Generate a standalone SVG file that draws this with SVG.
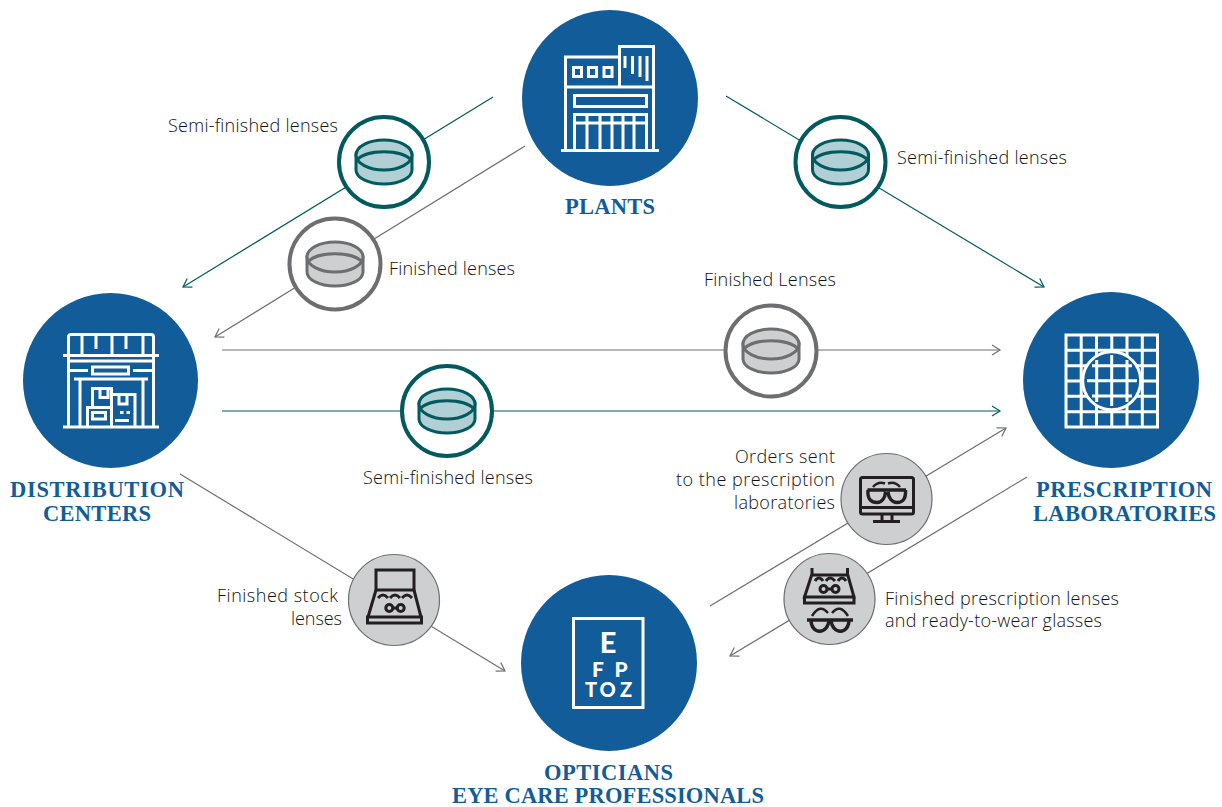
<svg xmlns="http://www.w3.org/2000/svg" width="1222" height="807" viewBox="0 0 1222 807">
<style>
.hub{fill:#115c99}
.ico{fill:none;stroke:#fff;stroke-width:3}
.title{font-family:"Liberation Serif",serif;font-weight:700;font-size:22.500px;fill:#115c99;text-anchor:middle}
.lbl{font-family:"Open Sans","Liberation Sans",sans-serif;font-weight:300;font-size:18px;fill:#111}
.eye{font-family:Lato,"Open Sans",sans-serif;font-weight:900;fill:#fff;text-anchor:middle}
.lt{fill:none;stroke:#005a5e;stroke-width:1.2}
.lg{fill:none;stroke:#6d6e70;stroke-width:1.2}
.bt{fill:#fff;stroke:#005a5e;stroke-width:4}
.bg{fill:#fff;stroke:#6d6e70;stroke-width:4}
.bf{fill:#cdcfd1;stroke:#6d6e70;stroke-width:1.2}
.dk{fill:none;stroke:#231f20;stroke-width:3}
</style>
<defs>
<marker id="at" markerUnits="userSpaceOnUse" markerWidth="12" markerHeight="14" refX="9" refY="6" orient="auto" overflow="visible"><path d="M1,1 L9,6 L1,11" fill="none" stroke="#005a5e" stroke-width="1.2"/></marker>
<marker id="ag" markerUnits="userSpaceOnUse" markerWidth="12" markerHeight="14" refX="9" refY="6" orient="auto" overflow="visible"><path d="M1,1 L9,6 L1,11" fill="none" stroke="#6d6e70" stroke-width="1.2"/></marker>
<g id="lens-t" stroke="#005a5e" stroke-width="3" fill="#b1d0d6"><path d="M-28,-7 V8 A28,14 0 0 0 28,8 V-7 Z"/><ellipse cx="0" cy="-7" rx="28" ry="15"/><path d="M-27,-2 C-18,-13 18,-13 27,-2" fill="none"/></g>
<g id="lens-g" stroke="#6d6e70" stroke-width="3" fill="#cdcfd1"><path d="M-28,-7 V8 A28,14 0 0 0 28,8 V-7 Z"/><ellipse cx="0" cy="-7" rx="28" ry="15"/><path d="M-27,-2 C-18,-13 18,-13 27,-2" fill="none"/></g>
</defs>

<g id="connectors">
<line class="lt" x1="493" y1="97" x2="183" y2="287" marker-end="url(#at)"/>
<line class="lg" x1="525" y1="146" x2="215" y2="337" marker-end="url(#ag)"/>
<line class="lt" x1="726" y1="96" x2="1044" y2="287" marker-end="url(#at)"/>
<line class="lg" x1="222" y1="350" x2="1000" y2="350" marker-end="url(#ag)"/>
<line class="lt" x1="222" y1="411" x2="1000" y2="411" marker-end="url(#at)"/>
<line class="lg" x1="180" y1="474" x2="505" y2="671" marker-end="url(#ag)"/>
<line class="lg" x1="710" y1="606" x2="1006" y2="428" marker-end="url(#ag)"/>
<line class="lg" x1="1027" y1="477" x2="730" y2="656" marker-end="url(#ag)"/>
</g>

<g id="plants">
<circle class="hub" cx="610" cy="98" r="88"/>
<g class="ico">
<path d="M561,150.500H659M565.500,150.500V57H619M653.500,150.500V46.500H619.500V87M565.500,87H653.500"/>
<rect x="573.500" y="67.500" width="8" height="9"/><rect x="588.500" y="67.500" width="8" height="9"/><rect x="604" y="67.500" width="8" height="9"/>
<path d="M625,56V68M632.500,56V74M640,56V77M647,56V81"/>
<rect x="574.500" y="95.500" width="72" height="11"/>
<path d="M574.500,150V114.500H646.500V150M574.500,123H646.500M587,114.500V150M600,114.500V150M612,114.500V150M623,114.500V150M634,114.500V150"/>
</g>
<text class="title" x="610" y="214" textLength="90" lengthAdjust="spacing">PLANTS</text>
</g>

<g id="distribution-centers">
<circle class="hub" cx="110.500" cy="380.500" r="87.500"/>
<g class="ico">
<path d="M63,355.500H159M63,427H159M68.500,355V337Q68.500,334.500 71,334.500H151Q153.500,334.500 153.500,337V427M68.500,355V427M82,334.500V355M112,334.500V355M143,334.500V355M96,334.500V349M126,334.500V349"/>
<path d="M68.500,361H153.500M68.500,370.500H88M133,370.500H153.500M74,379H148M80,379V427M143,379V427"/>
<rect x="92.500" y="367" width="36" height="7"/>
<path d="M87.500,427V407.500H111.500V427M92.500,407.500V388.500H111.500V427M111.500,394.500H135V427M100,388.500V397.500H108V388.500M119,394.500V404H127V394.500"/>
<rect x="92.500" y="412.500" width="13" height="6.500"/>
<path d="M115,420.500H129M120,412.500H123.500M126.500,412.500H130"/>
</g>
<text class="title" x="97" y="497" textLength="174" lengthAdjust="spacing">DISTRIBUTION</text>
<text class="title" x="97" y="521" textLength="108" lengthAdjust="spacing">CENTERS</text>
</g>

<g id="prescription-laboratories">
<circle class="hub" cx="1111" cy="380" r="88"/>
<g class="ico">
<rect x="1066" y="335" width="91.500" height="92"/>
<path d="M1081.200,335V427M1096.500,335V427M1111.800,335V427M1127,335V427M1142.300,335V427M1066,350.300H1157.500M1066,365.700H1157.500M1066,381H1157.500M1066,396.300H1157.500M1066,411.700H1157.500"/>
<circle cx="1111.700" cy="380.700" r="29" fill="#115c99"/>
<path d="M1096.700,360V402M1111.700,355V406M1127,360V402M1092,365.700H1132M1087,380.700H1137M1092,396H1132"/>
</g>
<text class="title" x="1124" y="497" textLength="176" lengthAdjust="spacing">PRESCRIPTION</text>
<text class="title" x="1124.500" y="521" textLength="183" lengthAdjust="spacing">LABORATORIES</text>
</g>

<g id="opticians">
<circle class="hub" cx="609" cy="663" r="88"/>
<rect x="573.500" y="618.500" width="69.500" height="89" fill="none" stroke="#fff" stroke-width="3"/>
<text class="eye" x="608" y="653" font-size="29">E</text>
<text class="eye" x="598" y="677" font-size="21">F</text>
<text class="eye" x="621" y="677" font-size="21">P</text>
<text class="eye" x="591" y="697" font-size="20">T</text>
<text class="eye" x="607.500" y="697" font-size="20">O</text>
<text class="eye" x="626" y="697" font-size="20">Z</text>
<text class="title" x="608.500" y="780" textLength="129" lengthAdjust="spacing">OPTICIANS</text>
<text class="title" x="608" y="803" textLength="312" lengthAdjust="spacing">EYE CARE PROFESSIONALS</text>
</g>

<g id="badge-semi-dc">
<circle class="bt" cx="384" cy="162" r="45"/><use href="#lens-t" x="384" y="162"/>
<text class="lbl" x="168" y="132" textLength="170">Semi-finished lenses</text>
</g>
<g id="badge-finished-dc">
<circle class="bg" cx="335" cy="264" r="45.500"/><use href="#lens-g" x="335" y="264"/>
<text class="lbl" x="389" y="274.500" textLength="126">Finished lenses</text>
</g>
<g id="badge-semi-lab">
<circle class="bt" cx="840.500" cy="162" r="45"/><use href="#lens-t" x="840.500" y="162"/>
<text class="lbl" x="897" y="163.500" textLength="170">Semi-finished lenses</text>
</g>
<g id="badge-finished-lab">
<circle class="bg" cx="771" cy="351" r="45.500"/><use href="#lens-g" x="771" y="351"/>
<text class="lbl" x="704" y="286" textLength="132">Finished Lenses</text>
</g>
<g id="badge-semi-dc-lab">
<circle class="bt" cx="447" cy="411" r="45"/><use href="#lens-t" x="447" y="411"/>
<text class="lbl" x="363" y="483.500" textLength="170">Semi-finished lenses</text>
</g>

<g id="badge-orders">
<circle class="bf" cx="886.500" cy="499" r="45.500"/>
<g class="dk">
<rect x="860.500" y="477.500" width="53" height="36.500" rx="2"/>
<path d="M860.500,507.500H913.500M882,514V521M892,514V521M873,521.500H900"/>
<path d="M867.500,490H906M868,490C867,500 872,502.500 877,502.500C882,502.500 885,498 885.500,492M888,492C888.500,498 892,502.500 897,502.500C902,502.500 906,500 905.500,490" stroke-width="3.400"/>
<path d="M873,487Q878,481 885,483.500M900,487Q895,481 888,483.500" stroke-width="2.500"/>
</g>
<text class="lbl" x="735" y="463" textLength="100">Orders sent</text>
<text class="lbl" x="676" y="486" textLength="159">to the prescription</text>
<text class="lbl" x="734" y="509" textLength="101">laboratories</text>
</g>

<g id="badge-stock">
<circle class="bf" cx="394" cy="600" r="45.500"/>
<g class="dk">
<rect x="376" y="570" width="38" height="20"/>
<path d="M376,590L368,617H421L414,590M367.500,617H421.500V623H367.500Z"/>
<path d="M378,598Q383,592 388,598M390,598Q395,592 400,598M402,598Q407,592 412,598"/>
<circle cx="389.300" cy="608" r="3.500"/><circle cx="400.700" cy="608" r="3.500"/><path d="M392.800,608H397.200"/>
</g>
<text class="lbl" x="217" y="601.500" textLength="121">Finished stock</text>
<text class="lbl" x="291" y="625" textLength="51">lenses</text>
</g>

<g id="badge-prescription">
<circle class="bf" cx="829.500" cy="599" r="45.500"/>
<g class="dk">
<path d="M812,568V575H847.500V568M812,574L804.500,597H854L847.500,574M804.500,597H854V603H804.500Z"/>
<path d="M815,581Q819,575 823,581M826,581Q830,575 835,581M838,581Q842,575 846,581"/>
<circle cx="823.500" cy="589" r="3.500"/><circle cx="835.500" cy="589" r="3.500"/><path d="M827,589H832"/>
<path d="M807,620H853" stroke-width="3.400"/>
<path d="M811,620C811,635 828,635 829,620M831,620C832,635 849,635 849,620" stroke-width="3.400"/>
<path d="M812,616Q820,603 828,613M832,613Q840,603 848,616" stroke-width="2.500"/>
</g>
<text class="lbl" x="885" y="604.500" textLength="234">Finished prescription lenses</text>
<text class="lbl" x="885" y="627" textLength="217">and ready-to-wear glasses</text>
</g>
</svg>
